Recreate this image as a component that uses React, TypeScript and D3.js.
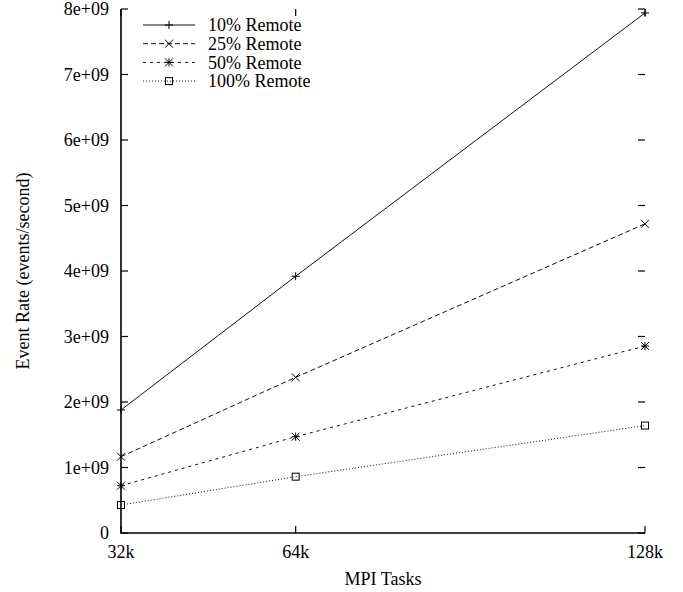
import React from "react";
import * as d3 from "d3";

const tasks = [32, 64, 128];
const xTickLabels = ["32k", "64k", "128k"];
const yTicks = [0, 1e9, 2e9, 3e9, 4e9, 5e9, 6e9, 7e9, 8e9];
const yTickLabels = ["0", "1e+09", "2e+09", "3e+09", "4e+09", "5e+09", "6e+09", "7e+09", "8e+09"];
const seriesNames = ["10% Remote", "25% Remote", "50% Remote", "100% Remote"];
const remote10 = [1.878e9, 3.92e9, 7.94e9];
const remote25 = [1.165e9, 2.377e9, 4.72e9];
const remote50 = [0.722e9, 1.47e9, 2.855e9];
const remote100 = [0.427e9, 0.86e9, 1.64e9];

const seriesValues = [remote10, remote25, remote50, remote100];
const dashes = ["none", "5,3", "3,4", "1,2"];
const markerTypes = ["plus", "cross", "star", "square"];

const W = 683, H = 592;
const left = 121, right = 645, top = 9, bottom = 533;
const font = "'Liberation Serif', 'Times New Roman', serif";

function Marker({ type, x, y }: { type: string; x: number; y: number }) {
  const s = 4;
  const st = { stroke: "#000", strokeWidth: 1, fill: "none" };
  if (type === "plus")
    return <path d={`M${x - s},${y}H${x + s}M${x},${y - s}V${y + s}`} {...st} />;
  if (type === "cross")
    return <path d={`M${x - s},${y - s}L${x + s},${y + s}M${x - s},${y + s}L${x + s},${y - s}`} {...st} />;
  if (type === "star")
    return (
      <path
        d={`M${x - s},${y}H${x + s}M${x},${y - s}V${y + s}M${x - s},${y - s}L${x + s},${y + s}M${x - s},${y + s}L${x + s},${y - s}`}
        {...st}
      />
    );
  return <rect x={x - 3.5} y={y - 3.5} width={7} height={7} {...st} />;
}

export default function App() {
  const x = d3.scaleLinear().domain([32, 128]).range([left, right]);
  const y = d3.scaleLinear().domain([0, 8e9]).range([bottom, top]);
  const line = d3
    .line<number>()
    .x((_, i) => x(tasks[i]))
    .y((d) => y(d));
  const tl = 7;

  return (
    <svg
      width={W}
      height={H}
      style={{ position: "absolute", left: 0, top: 0, background: "#fff" }}
      fontFamily={font}
    >
      {/* series */}
      {seriesValues.map((vals, si) => (
        <g key={si}>
          <path
            d={line(vals) || ""}
            fill="none"
            stroke="#111"
            strokeWidth={1}
            strokeDasharray={dashes[si]}
          />
          {vals.map((v, i) => (
            <Marker key={i} type={markerTypes[si]} x={x(tasks[i])} y={y(v)} />
          ))}
        </g>
      ))}

      {/* axes */}
      <path d={`M${left},${top}V${bottom}H${right}`} fill="none" stroke="#000" strokeWidth={1.6} />
      {yTicks.map((t, i) => (
        <g key={i}>
          <line x1={left} x2={left + tl} y1={y(t)} y2={y(t)} stroke="#000" strokeWidth={1.2} />
          <line x1={right - tl} x2={right} y1={y(t)} y2={y(t)} stroke="#000" strokeWidth={1.2} />
          <text x={109} y={y(t)} dy="0.35em" textAnchor="end" fontSize={18}>
            {yTickLabels[i]}
          </text>
        </g>
      ))}
      {tasks.map((t, i) => (
        <g key={i}>
          <line x1={x(t)} x2={x(t)} y1={bottom} y2={bottom - tl} stroke="#000" strokeWidth={1.2} />
          <line x1={x(t)} x2={x(t)} y1={top} y2={top + tl} stroke="#000" strokeWidth={1.2} />
          <text x={x(t)} y={558} textAnchor="middle" fontSize={18}>
            {xTickLabels[i]}
          </text>
        </g>
      ))}
      <text x={(left + right) / 2} y={585} textAnchor="middle" fontSize={18}>
        MPI Tasks
      </text>
      <text
        transform={`translate(29,${(top + bottom) / 2}) rotate(-90)`}
        textAnchor="middle"
        fontSize={18}
      >
        Event Rate (events/second)
      </text>

      {/* legend */}
      {seriesNames.map((name, i) => {
        const ly = 25 + i * 18.7;
        return (
          <g key={i}>
            <line x1={143} x2={195} y1={ly} y2={ly} stroke="#111" strokeWidth={1} strokeDasharray={dashes[i]} />
            <Marker type={markerTypes[i]} x={169} y={ly} />
            <text x={208} y={ly} dy="0.35em" fontSize={18}>
              {name}
            </text>
          </g>
        );
      })}
    </svg>
  );
}
